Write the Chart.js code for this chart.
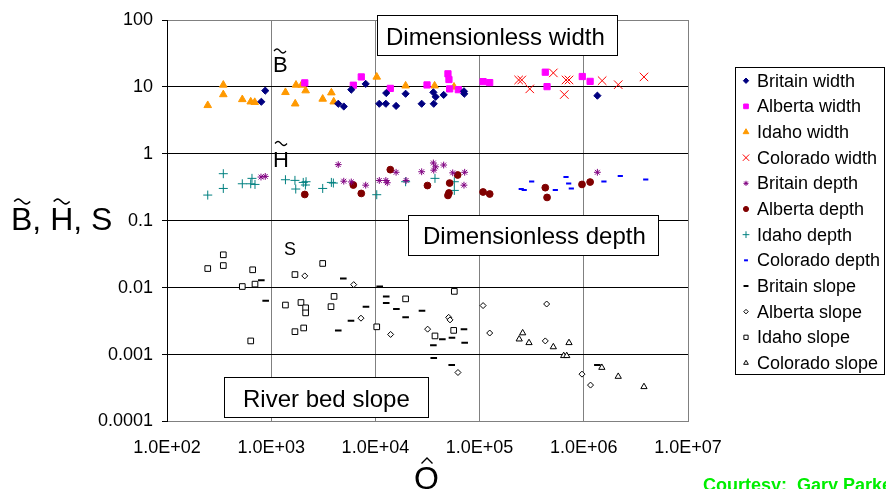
<!DOCTYPE html>
<html>
<head>
<meta charset="utf-8">
<title>Bankfull geometry vs dimensionless discharge</title>
<script src="https://cdn.jsdelivr.net/npm/chart.js@4.4.1/dist/chart.umd.min.js"></script>
<style>
  html, body { margin: 0; padding: 0; background: #fff; }
  #wrap { width: 886px; height: 489px; }
</style>
</head>
<body>
<div id="wrap"><canvas id="chart" width="886" height="489"></canvas></div>
<script>
// Axis ticks
const xTicks = [1e2, 1e3, 1e4, 1e5, 1e6, 1e7];
const xTickLabels = ['1.0E+02', '1.0E+03', '1.0E+04', '1.0E+05', '1.0E+06', '1.0E+07'];
const yTicks = [100, 10, 1, 0.1, 0.01, 0.001, 0.0001];
const yTickLabels = ['100', '10', '1', '0.1', '0.01', '0.001', '0.0001'];

// [Q, value] pairs for each river set
const britainWidth = [[877, 8.8], [804, 6.0], [4400, 5.6], [4970, 5.1], [5870, 9.1], [8070, 11.1], [10900, 5.6], [12600, 5.6], [12700, 8.1], [15800, 5.2], [19500, 7.9], [27800, 5.6], [36000, 8.3], [37900, 7.1], [36300, 5.6], [45200, 7.6], [70800, 8.6], [71300, 7.9], [1350000, 7.4]];
const albertaWidth = [[2100, 11.5], [6140, 10.6], [7320, 14.1], [13900, 9.5], [31300, 10.7], [49700, 15.7], [50800, 12.9], [51600, 9.35], [62500, 9.1], [108000, 12.0], [125000, 11.6], [427000, 16.6], [444000, 10.1], [967000, 14.3], [1150000, 12.1]];
const idahoWidth = [[246, 5.3], [347, 10.7], [347, 7.7], [528, 6.5], [636, 6.0], [695, 5.9], [1370, 8.3], [1700, 5.6], [1730, 10.7], [1960, 10.7], [2140, 8.8], [3120, 6.6], [3780, 8.2], [3980, 6.0], [10300, 14.1], [19500, 10.4], [37000, 10.4], [56800, 10.0]];
const coloradoWidth = [[237000, 12.7], [254000, 12.7], [303000, 9.35], [510000, 16.2], [650000, 7.7], [675000, 12.7], [721000, 12.7], [1500000, 12.4], [2140000, 10.8], [3780000, 14.1]];

const britainDepth = [[798, 0.45], [877, 0.46], [4400, 0.69], [4970, 0.39], [5870, 0.38], [8070, 0.34], [10900, 0.40], [12600, 0.40], [13000, 0.37], [15800, 0.53], [19700, 0.40], [27800, 0.54], [36000, 0.73], [37900, 0.64], [36300, 0.57], [45200, 0.68], [71900, 0.53], [70800, 0.34], [55200, 0.52], [1350000, 0.53]];
const albertaDepth = [[2100, 0.247], [6140, 0.342], [7320, 0.256], [13900, 0.58], [31600, 0.336], [49700, 0.239], [50800, 0.26], [51600, 0.366], [61600, 0.483], [108000, 0.269], [125000, 0.251], [427000, 0.312], [444000, 0.223], [961000, 0.349], [1150000, 0.379]];
const idahoDepth = [[246, 0.242], [347, 0.505], [347, 0.304], [528, 0.357], [654, 0.43], [636, 0.357], [699, 0.349], [1370, 0.41], [1690, 0.401], [1720, 0.298], [2030, 0.374], [2160, 0.383], [2130, 0.342], [3120, 0.304], [3780, 0.374], [3950, 0.366], [10300, 0.245], [19500, 0.383], [37300, 0.43], [57200, 0.383], [57200, 0.284]];
const coloradoDepth = [[251000, 0.298], [268000, 0.288], [316000, 0.387], [533000, 0.288], [675000, 0.451], [716000, 0.361], [759000, 0.304], [1560000, 0.387], [2240000, 0.467], [3930000, 0.415]];

const britainSlope = [[804, 0.0129], [885, 0.0064], [4920, 0.0137], [8120, 0.0052], [5830, 0.0032], [4400, 0.0023], [11000, 0.0104], [12700, 0.0074], [12700, 0.0059], [15900, 0.0048], [19500, 0.0036], [28000, 0.0045], [43900, 0.0017], [36000, 0.00138], [36300, 0.00089], [54300, 0.00179], [70800, 0.0024], [71900, 0.0015], [54000, 0.0007], [1350000, 0.0007]];
const albertaSlope = [[2100, 0.015], [6190, 0.0111], [7270, 0.0035], [14000, 0.002], [31700, 0.0024], [50500, 0.0036], [52000, 0.0033], [62000, 0.00054], [108000, 0.0054], [125000, 0.0021], [440000, 0.0057], [427000, 0.0016], [961000, 0.00051], [1160000, 0.00035]];
const idahoSlope = [[347, 0.031], [246, 0.0193], [347, 0.0214], [664, 0.0185], [528, 0.0104], [699, 0.0113], [1690, 0.0157], [3120, 0.023], [1370, 0.0055], [1930, 0.006], [2140, 0.005], [2140, 0.0042], [4010, 0.0074], [3750, 0.0052], [1690, 0.0022], [2050, 0.0025], [636, 0.0016], [10300, 0.0026], [19500, 0.0068], [57200, 0.0088], [37300, 0.0019], [56400, 0.0023]];
const coloradoSlope = [[259000, 0.0021], [240000, 0.0017], [298000, 0.0015], [510000, 0.0013], [721000, 0.0015], [641000, 0.00096], [686000, 0.00096], [1490000, 0.00064], [2140000, 0.00047], [3780000, 0.00033]];

const FONT = '"Liberation Sans", Arial, Helvetica, sans-serif';
const GREY = '#808080';

// label, data, marker style, fill, outline, radius, line width
const series = [
    ['Britain width', britainWidth, 'rectRot', '#000080', '#000080', 3.6, 1],
    ['Alberta width', albertaWidth, 'rect', '#FF00FF', '#FF00FF', 4.4, 1],
    ['Idaho width', idahoWidth, 'triangle', '#FF9900', '#FF9900', 4.4, 1],
    ['Colorado width', coloradoWidth, 'crossRot', '#FF0000', '#FF0000', 6, 1],
    ['Britain depth', britainDepth, 'star', '#800080', '#800080', 3.4, 1],
    ['Alberta depth', albertaDepth, 'circle', '#800000', '#800000', 3.4, 1],
    ['Idaho depth', idahoDepth, 'cross', '#008080', '#008080', 4.5, 1],
    ['Colorado depth', coloradoDepth, 'line', '#0000FF', '#0000FF', 2.6, 2],
    ['Britain slope', britainSlope, 'line', '#000000', '#000000', 3.3, 2],
    ['Alberta slope', albertaSlope, 'rectRot', '#FFFFFF', '#000000', 3, 1],
    ['Idaho slope', idahoSlope, 'rect', '#FFFFFF', '#000000', 4, 1],
    ['Colorado slope', coloradoSlope, 'triangle', '#FFFFFF', '#000000', 3.6, 1]
];

const datasets = series.map(s => ({
    label: s[0],
    data: s[1].map(p => ({ x: p[0], y: p[1] })),
    pointStyle: s[2],
    backgroundColor: s[3],
    borderColor: s[4],
    pointRadius: s[5],
    pointBorderWidth: s[6],
    borderWidth: s[6],
    showLine: false
}));

function drawTilde(ctx, cx, cy, w, a) {
    ctx.beginPath();
    for (let i = 0; i <= 16; i++) {
        const t = i / 16;
        const px = cx - w / 2 + w * t;
        const py = cy - a * Math.sin(2 * Math.PI * t);
        if (i === 0) ctx.moveTo(px, py); else ctx.lineTo(px, py);
    }
    ctx.stroke();
}

function textBox(ctx, x, y, w, h, text, tx, ty) {
    ctx.fillStyle = '#fff';
    ctx.fillRect(x, y, w, h);
    ctx.strokeStyle = '#000';
    ctx.lineWidth = 1;
    ctx.strokeRect(x + 0.5, y + 0.5, w, h);
    ctx.fillStyle = '#000';
    ctx.font = '24px ' + FONT;
    ctx.textBaseline = 'alphabetic';
    ctx.textAlign = 'left';
    ctx.fillText(text, tx, ty);
}

// Text boxes, axis titles, symbols and the legend panel
const overlay = {
    id: 'overlay',
    afterDraw(chart) {
        const ctx = chart.ctx;
        ctx.save();

        textBox(ctx, 377, 15, 240, 40, 'Dimensionless width', 386, 45);
        textBox(ctx, 408, 215, 250, 40, 'Dimensionless depth', 423, 243.5);
        textBox(ctx, 224, 377, 204, 40, 'River bed slope', 243, 406.5);

        ctx.fillStyle = '#000';
        ctx.strokeStyle = '#000';
        ctx.lineWidth = 1.3;
        ctx.textBaseline = 'alphabetic';
        ctx.textAlign = 'left';

        // symbols inside the plot
        ctx.font = '22px ' + FONT;
        ctx.fillText('B', 273, 71.5);
        drawTilde(ctx, 280, 51, 12, 2);
        ctx.fillText('H', 273, 166.5);
        drawTilde(ctx, 281, 143.5, 12, 2);
        ctx.font = '18px ' + FONT;
        ctx.fillText('S', 284, 255);

        // y-axis title
        ctx.font = '32px ' + FONT;
        const yt = 'B, H, S';
        const x0 = 11;
        ctx.fillText(yt, x0, 230);
        const wB = ctx.measureText('B').width;
        const wBH = ctx.measureText('B, ').width;
        const wH = ctx.measureText('H').width;
        ctx.lineWidth = 1.6;
        drawTilde(ctx, x0 + wB / 2 + 0.5, 201.5, 16, 2.4);
        drawTilde(ctx, x0 + wBH + wH / 2, 201.5, 16, 2.4);

        // x-axis title
        ctx.fillText('Q', 414, 489);
        ctx.lineWidth = 1.4;
        ctx.beginPath();
        ctx.moveTo(421.5, 463.5);
        ctx.lineTo(427, 458);
        ctx.lineTo(432.5, 463.5);
        ctx.stroke();

        // credit
        ctx.fillStyle = '#00EE00';
        ctx.font = 'bold 18px ' + FONT;
        ctx.fillText('Courtesy:  Gary Parker', 703, 491);

        // legend panel
        ctx.strokeStyle = '#000';
        ctx.lineWidth = 1;
        ctx.strokeRect(735.5, 67.5, 149, 307);
        ctx.font = '18px ' + FONT;
        ctx.textBaseline = 'middle';
        chart.data.datasets.forEach((ds, i) => {
            const y = 80.7 + i * 25.66;
            ctx.fillStyle = ds.backgroundColor;
            ctx.strokeStyle = ds.borderColor;
            ctx.lineWidth = ds.borderWidth;
            Chart.helpers.drawPoint(ctx, {
                pointStyle: ds.pointStyle,
                rotation: 0,
                radius: ds.pointRadius * 0.75,
                borderWidth: ds.borderWidth
            }, 746, y);
            ctx.fillStyle = '#000';
            ctx.fillText(ds.label, 757, y + 1);
        });

        ctx.restore();
    }
};

new Chart(document.getElementById('chart'), {
    type: 'scatter',
    data: { datasets: datasets },
    options: {
        responsive: false,
        animation: false,
        events: [],
        layout: { padding: { left: 0, top: 20, right: 198, bottom: 0 } },
        plugins: {
            legend: { display: false },
            tooltip: { enabled: false }
        },
        scales: {
            x: {
                type: 'logarithmic',
                position: 'bottom',
                min: 1e2,
                max: 1e7,
                afterBuildTicks: axis => { axis.ticks = xTicks.map(v => ({ value: v })); },
                afterFit: axis => { axis.height = 67.5; },
                ticks: {
                    autoSkip: false,
                    maxRotation: 0,
                    padding: 16,
                    color: '#000',
                    font: { family: FONT, size: 18 },
                    callback: (v, i) => xTickLabels[i]
                },
                grid: { color: GREY, lineWidth: 1, drawTicks: false },
                border: { color: GREY, width: 1 }
            },
            y: {
                type: 'logarithmic',
                min: 0.0001,
                max: 100,
                afterBuildTicks: axis => { axis.ticks = yTicks.slice().reverse().map(v => ({ value: v })); },
                afterFit: axis => { axis.width = 167; },
                ticks: {
                    autoSkip: false,
                    padding: 9,
                    color: '#000',
                    font: { family: FONT, size: 18 },
                    callback: (v, i) => yTickLabels[yTicks.length - 1 - i]
                },
                grid: {
                    color: ctx => (ctx.tick && (ctx.tick.value === 100 || ctx.tick.value === 0.0001)) ? GREY : '#000',
                    lineWidth: 1,
                    drawTicks: true,
                    tickLength: 5,
                    tickColor: '#000'
                },
                border: { color: '#000', width: 1 }
            }
        }
    },
    plugins: [overlay]
});
</script>
</body>
</html>
